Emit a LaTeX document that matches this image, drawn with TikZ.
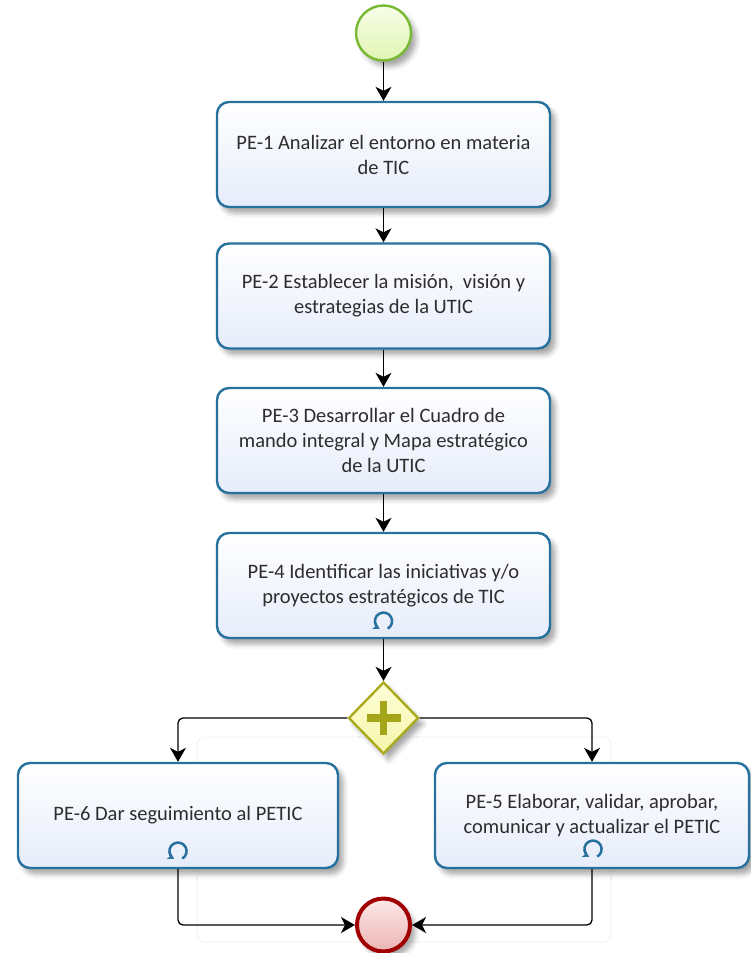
\documentclass[tikz,border=0pt]{standalone}
\usepackage{fontspec}
\setmainfont{Carlito}
\usetikzlibrary{arrows.meta,shapes.geometric,shadows.blur}
\definecolor{taskborder}{RGB}{38,113,158}
\definecolor{taskfill}{RGB}{230,236,250}
\definecolor{txt}{RGB}{45,45,45}
\definecolor{gwborder}{RGB}{170,170,30}
\definecolor{gwfillA}{RGB}{255,255,215}
\definecolor{gwfillB}{RGB}{245,245,170}
\definecolor{plusc}{RGB}{165,165,25}
\definecolor{startborder}{RGB}{120,185,50}
\definecolor{startA}{RGB}{248,253,232}
\definecolor{startB}{RGB}{225,245,180}
\definecolor{endborder}{RGB}{160,0,0}
\definecolor{endA}{RGB}{252,232,232}
\definecolor{endB}{RGB}{236,180,180}
\begin{document}
\begin{tikzpicture}[x=1pt,y=-1pt,
  task/.style={draw=taskborder, line width=2.4pt, rounded corners=12pt,
    top color=white, bottom color=taskfill,
    minimum width=333pt, minimum height=105pt, inner sep=0pt,
    align=center, text=txt, font=\fontsize{20.5}{25}\selectfont,
    blur shadow={shadow xshift=5pt, shadow yshift=-6pt, shadow blur radius=5pt, shadow opacity=35}},
  flow/.style={draw=black, line width=1.3pt, -{Stealth[length=14pt,width=16pt,inset=4pt]}},
  loopmark/.style={draw=taskborder, line width=2.5pt, -{Stealth[length=6pt,width=8pt]}},
  gateway/.style={diamond, draw=gwborder, line width=2.4pt, top color=gwfillA, bottom color=gwfillB,
    minimum width=70pt, minimum height=72pt, inner sep=0pt,
    blur shadow={shadow xshift=5pt, shadow yshift=-6pt, shadow blur radius=5pt, shadow opacity=35}},
  startev/.style={circle, draw=startborder, line width=2.4pt, top color=startA, bottom color=startB,
    minimum size=55pt, inner sep=0pt,
    blur shadow={shadow xshift=5pt, shadow yshift=-6pt, shadow blur radius=5pt, shadow opacity=35}},
  endev/.style={circle, draw=endborder, line width=4pt, top color=endA, bottom color=endB,
    minimum size=53pt, inner sep=0pt,
    blur shadow={shadow xshift=5pt, shadow yshift=-6pt, shadow blur radius=5pt, shadow opacity=35}}
]
\useasboundingbox (0,0) rectangle (751,953);
% faint trace
\draw[gray!10, line width=1pt, rounded corners=8pt] (197,737) rectangle (611,942);

\node[startev] (start) at (383.5,33) {};
\node[task] (b1) at (383.5,154.5) {PE-1 Analizar el entorno en materia\\de TIC};
\node[task] (b2) at (383.5,296) {PE-2 Establecer la misión,\ \ visión y\\estrategias de la UTIC};
\node[task] (b3) at (383.5,440.5) {PE-3 Desarrollar el Cuadro de\\mando integral y Mapa estratégico\\de la UTIC};
\node[task] (b4) at (383.5,585.5) {PE-4 Identificar las iniciativas y/o\\proyectos estratégicos de TIC};
\node[gateway] (gw) at (383.5,718) {};
\node[task, minimum width=320pt] (b6) at (178,815.5) {PE-6 Dar seguimiento al PETIC};
\node[task, minimum width=314pt] (b5) at (592,815.5) {\raisebox{4pt}{\begin{tabular}{@{}c@{}}PE-5 Elaborar, validar, aprobar,\\comunicar y actualizar el PETIC\end{tabular}}};
\node[endev] (end) at (383.5,925) {};

% plus in gateway
\draw[plusc, line width=7.5pt] ([xshift=-17pt]gw.center) -- ([xshift=17pt]gw.center)
  ([yshift=-17pt]gw.center) -- ([yshift=17pt]gw.center);

% loop markers (centre about 18pt above the box bottom)
\draw[loopmark] ([shift={(4.3pt,10.6pt)}]b4.south) arc (-60:240:8.6pt);
\draw[loopmark] ([shift={(4.3pt,10.6pt)}]b6.south) arc (-60:240:8.6pt);
\draw[loopmark] ([shift={(5.3pt,12.6pt)}]b5.south) arc (-60:240:8.6pt);

% connectors
\draw[flow] (start) -- (b1);
\draw[flow] (b1) -- (b2);
\draw[flow] (b2) -- (b3);
\draw[flow] (b3) -- (b4);
\draw[flow] (b4) -- (gw);
\draw[flow, rounded corners=5pt] (gw.west) -| (b6.north);
\draw[flow, rounded corners=5pt] (gw.east) -| (b5.north);
\draw[flow, rounded corners=5pt] (b6.south) |- (end.west);
\draw[flow, rounded corners=5pt] (b5.south) |- (end.east);
\end{tikzpicture}
\end{document}
